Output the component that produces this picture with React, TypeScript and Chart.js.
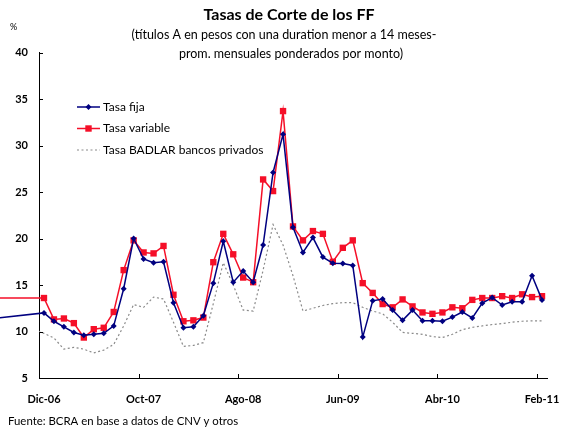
import React, { useEffect, useRef } from 'react';
import { Chart, registerables } from 'chart.js';

Chart.register(...registerables);

// ---- Data (monthly, Dic-06 .. Feb-11) ----
const tickLabels = ['Dic-06', 'Oct-07', 'Ago-08', 'Jun-09', 'Abr-10', 'Feb-11'];
const tickEvery = 10; // one label every 10 months

const tasaFija = [
  12.0, 11.1, 10.5, 9.9, 9.6, 9.7, 9.8, 10.6, 14.6, 20.0,
  17.8, 17.4, 17.5, 13.1, 10.4, 10.5, 11.7, 15.2, 19.7, 15.3,
  16.5, 15.3, 19.3, 27.1, 31.2, 21.2, 18.5, 20.1, 18.0, 17.35,
  17.3, 17.1, 9.4, 13.3, 13.5, 12.3, 11.2, 12.3, 11.15, 11.15,
  11.1, 11.55, 12.1, 11.45, 13.05, 13.65, 12.85, 13.2, 13.2, 16.0, 13.4,
];

const tasaVariable = [
  13.6, 11.3, 11.4, 10.9, 9.35, 10.25, 10.4, 12.1, 16.6, 19.8,
  18.5, 18.4, 19.2, 13.95, 11.1, 11.2, 11.5, 17.45, 20.5, 18.3,
  15.8, 15.3, 26.35, 25.1, 33.7, 21.3, 19.8, 20.8, 20.5, 17.5,
  19.0, 19.8, 15.2, 14.15, 12.95, 12.6, 13.45, 12.7, 12.05, 11.9,
  12.05, 12.6, 12.5, 13.4, 13.6, 13.6, 13.8, 13.6, 14.0, 13.7, 13.8,
];

const badlar = [
  9.8, 9.3, 8.1, 8.3, 8.1, 7.7, 8.0, 8.6, 10.6, 12.9,
  12.6, 13.7, 13.5, 11.0, 8.4, 8.5, 8.8, 13.0, 17.4, 15.0,
  12.3, 12.2, 16.6, 21.5, 19.3, 16.0, 12.2, 12.5, 12.8, 13.0,
  13.1, 13.1, 12.6, 12.2, 11.9, 11.0, 9.9, 9.8, 9.7, 9.45,
  9.35, 9.7, 10.2, 10.45, 10.6, 10.75, 10.85, 11.0, 11.1, 11.15, 11.15,
];

// earlier observations (before Dic-06) whose lines enter from the left edge
const fijaPrior = { x: -5, y: 11.4 };
const variablePrior = { x: -5, y: 13.6 };
const badlarPrior = { x: -1, y: 10.2 };

const FONT = 'Lato, "DejaVu Sans", sans-serif';
const BLUE = '#000080';
const RED = 'rgb(245,15,40)';
const GRAY = '#8a8a8a';

const toPoints = (prior: { x: number; y: number }, arr: number[]) =>
  [prior, ...arr.map((v, i) => ({ x: i, y: v }))];

const decorPlugin = {
  id: 'decor',
  afterDraw(chart: any) {
    const { ctx, chartArea: ca, scales } = chart;
    const xs = scales.x;
    const ys = scales.y;
    ctx.save();
    ctx.strokeStyle = '#000';
    ctx.lineWidth = 1;
    // inward tick marks
    ys.ticks.forEach((t: any) => {
      const py = Math.round(ys.getPixelForValue(t.value)) + 0.5;
      ctx.beginPath();
      ctx.moveTo(ca.left, py);
      ctx.lineTo(ca.left + 4, py);
      ctx.stroke();
    });
    // category-axis tick marks sit on the boundary before each labelled month
    xs.ticks.forEach((t: any) => {
      if (t.value === 0) return;
      const px = Math.round(xs.getPixelForValue(t.value - 0.5)) + 0.5;
      ctx.beginPath();
      ctx.moveTo(px, ca.bottom);
      ctx.lineTo(px, ca.bottom - 4);
      ctx.stroke();
    });

    // titles
    ctx.fillStyle = '#000';
    ctx.textBaseline = 'middle';
    ctx.textAlign = 'center';
    ctx.font = `bold 16px ${FONT}`;
    ctx.fillText('Tasas de Corte de los FF', 289, 15);
    ctx.font = `12.5px ${FONT}`;
    ctx.fillText('(títulos A en pesos con una duration menor a 14 meses-', 284, 35);
    ctx.fillText('prom. mensuales ponderados por monto)', 291, 54);

    ctx.textAlign = 'left';
    ctx.font = `9px ${FONT}`;
    ctx.fillText('%', 10, 27);
    ctx.font = `11.4px ${FONT}`;
    ctx.fillText('Fuente: BCRA en base a datos de CNV y otros', 8, 421);

    // legend
    const legendRows = [107, 128.5, 150];
    chart.data.datasets.forEach((ds: any, k: number) => {
      const yy = legendRows[k];
      ctx.save();
      ctx.strokeStyle = ds.borderColor;
      ctx.lineWidth = ds.borderWidth;
      ctx.setLineDash(ds.borderDash || []);
      ctx.beginPath();
      ctx.moveTo(77, yy);
      ctx.lineTo(100, yy);
      ctx.stroke();
      ctx.setLineDash([]);
      ctx.fillStyle = ds.borderColor;
      if (ds.pointStyle === 'rect') {
        ctx.fillRect(88.5 - 3.2, yy - 3.2, 6.4, 6.4);
      } else if (ds.pointStyle === 'rectRot') {
        ctx.beginPath();
        ctx.moveTo(88.5, yy - 3);
        ctx.lineTo(91.5, yy);
        ctx.lineTo(88.5, yy + 3);
        ctx.lineTo(85.5, yy);
        ctx.closePath();
        ctx.fill();
      }
      ctx.restore();
      ctx.fillStyle = '#000';
      ctx.font = `12px ${FONT}`;
      ctx.textAlign = 'left';
      ctx.textBaseline = 'middle';
      ctx.fillText(ds.label, 103, yy);
    });
    ctx.restore();
  },
};

export default function App() {
  const canvasRef = useRef<HTMLCanvasElement | null>(null);

  useEffect(() => {
    document.body.style.margin = '0';
    const canvas = canvasRef.current;
    if (!canvas) return;
    const hideFirst = (ctx: any) => (ctx.raw && ctx.raw.x < 0 ? 0 : undefined);
    const chart = new Chart(canvas, {
      type: 'line',
      data: {
        datasets: [
          {
            label: 'Tasa fija',
            data: toPoints(fijaPrior, tasaFija),
            borderColor: BLUE,
            backgroundColor: BLUE,
            borderWidth: 1.5,
            pointStyle: 'rectRot',
            pointRadius: (c: any) => hideFirst(c) ?? 3,
            pointBorderWidth: 0,
            tension: 0,
            clip: false,
            order: 1,
          },
          {
            label: 'Tasa variable',
            data: toPoints(variablePrior, tasaVariable),
            borderColor: RED,
            backgroundColor: RED,
            borderWidth: 1.5,
            pointStyle: 'rect',
            pointRadius: (c: any) => hideFirst(c) ?? 4.5,
            pointBorderWidth: 0,
            tension: 0,
            clip: false,
            order: 2,
          },
          {
            label: 'Tasa BADLAR bancos privados',
            data: toPoints(badlarPrior, badlar),
            borderColor: GRAY,
            backgroundColor: GRAY,
            borderWidth: 1.2,
            borderDash: [2, 2.5],
            pointRadius: 0,
            tension: 0,
            order: 3,
          },
        ],
      } as any,
      options: {
        responsive: false,
        animation: false,
        events: [],
        layout: { padding: { top: 52.5, right: 14, left: 0, bottom: 0 } },
        plugins: {
          legend: { display: false },
          title: { display: false },
          tooltip: { enabled: false },
        },
        scales: {
          x: {
            type: 'linear',
            min: -0.5,
            max: 50.5,
            afterBuildTicks: (axis: any) => {
              axis.ticks = tickLabels.map((_, k) => ({ value: k * tickEvery }));
            },
            afterFit: (axis: any) => {
              axis.height = 54;
              axis.paddingLeft = 0;
              axis.paddingRight = 0;
            },
            ticks: {
              autoSkip: false,
              maxRotation: 0,
              padding: 15,
              color: '#000',
              font: { family: FONT, size: 11, weight: 'bold' },
              callback: (v: any) => tickLabels[Math.round(Number(v) / tickEvery)] ?? '',
            },
            grid: { display: false, drawTicks: false },
            border: { display: true, color: '#000', width: 1 },
          },
          y: {
            min: 5,
            max: 40,
            afterFit: (axis: any) => {
              axis.width = 39;
              axis.paddingTop = 0;
              axis.paddingBottom = 0;
            },
            ticks: {
              stepSize: 5,
              padding: 11,
              color: '#000',
              font: { family: FONT, size: 11, weight: 'bold' },
            },
            grid: { display: false, drawTicks: false },
            border: { display: true, color: '#000', width: 1 },
          },
        },
      } as any,
      plugins: [decorPlugin],
    });
    return () => chart.destroy();
  }, []);

  return (
    <div style={{ width: 561, height: 432, background: '#fff' }}>
      <canvas ref={canvasRef} width={561} height={432} />
    </div>
  );
}
